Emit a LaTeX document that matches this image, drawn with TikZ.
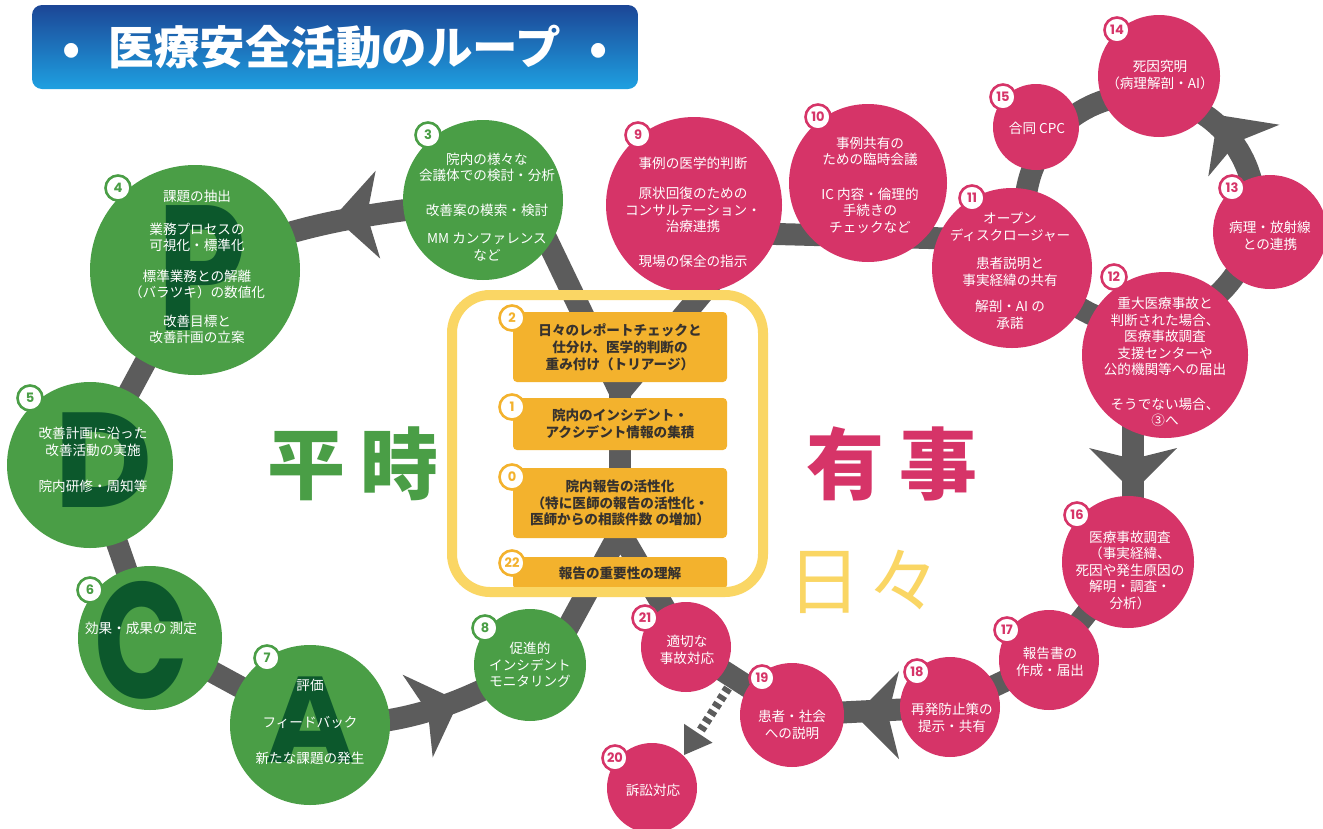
\documentclass[tikz,border=0pt]{standalone}
\usepackage{fontspec}
\newfontfamily\jp{Noto Sans CJK JP}
\newfontfamily\pop{Poppins}
\usetikzlibrary{calc}
\pgfdeclarelayer{back}
\pgfdeclarelayer{bands}
\pgfsetlayers{back,bands,main}
\definecolor{pgreen}{RGB}{74,158,70}
\definecolor{dgreen}{RGB}{12,88,44}
\definecolor{ppink}{RGB}{214,52,104}
\definecolor{bandgray}{RGB}{92,92,92}
\definecolor{boxorange}{RGB}{243,178,45}
\definecolor{frameyellow}{RGB}{250,214,100}
\definecolor{txtdark}{RGB}{55,50,45}
\definecolor{titletop}{RGB}{28,70,150}
\definecolor{titlebot}{RGB}{30,160,225}
\tikzset{
  band/.style={draw=bandgray, line width=22pt},
  dashband/.style={draw=bandgray, line width=9pt, dash pattern=on 5pt off 4pt},
  gcirc/.style={circle, fill=pgreen, minimum size=#1pt, inner sep=0pt},
  pcirc/.style={circle, fill=ppink, minimum size=#1pt, inner sep=0pt},
  badge/.style={circle, draw=#1, fill=white, line width=2.6pt, minimum size=25pt, inner sep=0pt, text=#1, font=\pop\bfseries\fontsize{13}{13}\selectfont},
  ctext/.style={text=white, align=center, inner sep=0pt, font=\jp\fontsize{13.6}{16.5}\selectfont},
  obox/.style={rounded corners=4pt, fill=boxorange, minimum width=214pt, minimum height=#1pt, inner sep=0pt, text=txtdark, align=center, font=\jp\bfseries\fontsize{13.6}{16.8}\selectfont},
  bigletter/.style={text=dgreen, inner sep=0pt, font=\pop\bfseries\fontsize{#1}{#1}\selectfont},
  bigword/.style={inner sep=0pt, font=\jp\bfseries\fontsize{78}{78}\selectfont},
  bigwordlight/.style={inner sep=0pt, font=\jp\fontsize{74}{74}\selectfont},
  titlebox/.style={rounded corners=10pt, top color=titletop, bottom color=titlebot, minimum width=606pt, minimum height=84pt, text=white, font=\jp\bfseries\fontsize{45.5}{45.5}\selectfont},
  frame/.style={draw=frameyellow, line width=10pt, rounded corners=38pt}
}
\newcommand\bighead[3]{\begin{scope}[shift={(#1,#2)},rotate=#3]\fill[bandgray] (0,0) -- (-44,44) -- (-33,0) -- (-44,-44) -- cycle;\end{scope}}
\begin{document}
\begin{tikzpicture}[x=1pt,y=-1pt]
\begin{pgfonlayer}{back}
\fill[white] (0,0) rectangle (1323,828);
\end{pgfonlayer}
\useasboundingbox (0,0) rectangle (1323,828);

% ---------- circles ----------
\node[gcirc=160] (n3) at (483,200) {};
\node[gcirc=210] (n4) at (195,270) {};
\node[gcirc=166] (n5) at (90,465) {};
\node[gcirc=144] (n6) at (150,638) {};
\node[gcirc=160] (n7) at (310,725) {};
\node[gcirc=112] (n8) at (530,665) {};
\node[pcirc=176] (n9) at (694,205) {};
\node[pcirc=158] (n10) at (868,183) {};
\node[pcirc=160] (n11) at (1012,268) {};
\node[pcirc=166] (n12) at (1165,355) {};
\node[pcirc=114] (n13) at (1270,232) {};
\node[pcirc=122] (n14) at (1159,76) {};
\node[pcirc=86] (n15) at (1036,127) {};
\node[pcirc=132] (n16) at (1128,562) {};
\node[pcirc=100] (n17) at (1049,660) {};
\node[pcirc=100] (n18) at (950,707) {};
\node[pcirc=104] (n19) at (792,715) {};
\node[pcirc=90] (n20) at (652,788) {};
\node[pcirc=90] (n21) at (686,647) {};

% ---------- helper coordinates ----------
\coordinate (j1) at (620,392);
\coordinate (j2) at (620,532);
\coordinate (a3) at (535,215);
\coordinate (a9) at (745,242);
\coordinate (a8) at (560,642);
\coordinate (a21) at (683,640);
\coordinate (p9) at (700,232);
\coordinate (p11) at (1005,240);
\coordinate (loopc) at (1140,210);
\coordinate (q12) at (1133,400);
\coordinate (q16) at (1133,560);
\coordinate (d1) at (728,688);
\coordinate (d2) at (699,733);

% ---------- gray bands ----------
\begin{pgfonlayer}{bands}
\draw[band] (a3) -- (j1) -- (a9);
\draw[band] (j1) -- (j2);
\draw[band] (a8) -- (j2) -- (a21);
\draw[band] (n3.center) .. controls (400,212) and (300,216) .. (n4.center);
\draw[band] (n4.center) -- (n5.center);
\draw[band] (n5.center) -- (n6.center);
\draw[band] (n6.center) -- (n7.center);
\draw[band] (n7.center) .. controls (400,728) and (460,705) .. (n8.center);
\draw[band] (p9) -- (p11);
\draw[band] (loopc) circle[radius=115pt];
\draw[band] (q12) -- (q16);
\draw[band] (n16.center) -- (n17.center) -- (n18.center) -- (n19.center) -- (n21.center);
\draw[dashband] (d1) -- (d2);
\bighead{334}{217}{183}
\bighead{459}{701}{20}
\bighead{1218}{115}{126}
\bighead{1133}{492}{-90}
\bighead{855}{715}{180}
\begin{scope}[shift={(684,755)},rotate=236.5]
\fill[bandgray] (0,0) -- (-26,17) -- (-26,-17) -- cycle;
\end{scope}
\end{pgfonlayer}

% ---------- big letters PDCA ----------
\begin{scope}\clip (n4.center) circle[radius=105pt];
\begin{scope}[shift={(202,268)},xscale=0.8]\node[bigletter=178, transform shape] (lp) at (0,0) {P};\end{scope}\end{scope}
\begin{scope}\clip (n5.center) circle[radius=83pt];
\node[bigletter=135] (ld) at (104,460) {D};\end{scope}
\begin{scope}\clip (n6.center) circle[radius=72pt];
\begin{scope}[shift={(142,640)},xscale=0.75]\node[bigletter=165, transform shape] (lc) at (0,0) {C};\end{scope}\end{scope}
\begin{scope}\clip (n7.center) circle[radius=80pt];
\node[bigletter=122] (la) at (310,720) {A};\end{scope}

% ---------- circle texts ----------
\node[ctext] (t3) at (487,207) {院内の様々な\\会議体での検討・分析\\[18pt]改善案の模索・検討\\[12pt]MM カンファレンス\\など};
\node[ctext] (t4) at (197,267) {課題の抽出\\[16pt]業務プロセスの\\可視化・標準化\\[14pt]標準業務との解離\\（バラツキ）の数値化\\[12pt]改善目標と\\改善計画の立案};
\node[ctext] (t5) at (93,460) {改善計画に沿った\\改善活動の実施\\[20pt]院内研修・周知等};
\node[ctext] (t6) at (141,628) {効果・成果の 測定};
\node[ctext] (t7) at (310,722) {評価\\[20pt]フィードバック\\[20pt]新たな課題の発生};
\node[ctext] (t8) at (530,665) {促進的\\インシデント\\モニタリング};
\node[ctext] (t9) at (693,212) {事例の医学的判断\\[14pt]原状回復のための\\コンサルテーション・\\治療連携\\[18pt]現場の保全の指示};
\node[ctext] (t10) at (870,185) {事例共有の\\ための臨時会議\\[18pt]IC 内容・倫理的\\手続きの\\チェックなど};
\node[ctext] (t11) at (1010,271) {オープン\\ディスクロージャー\\[12pt]患者説明と\\事実経緯の共有\\[10pt]解剖・AI の\\承諾};
\node[ctext] (t15) at (1037,128) {合同 CPC};
\node[ctext] (t14) at (1160,75) {死因究明\\（病理解剖・AI）};
\node[ctext] (t13) at (1270,236) {病理・放射線\\との連携};
\node[ctext] (t12) at (1165,362) {重大医療事故と\\判断された場合、\\医療事故調査\\支援センターや\\公的機関等への届出\\[18pt]そうでない場合、\\③へ};
\node[ctext] (t16) at (1130,570) {医療事故調査\\（事実経緯、\\死因や発生原因の\\解明・調査・\\分析）};
\node[ctext] (t17) at (1050,662) {報告書の\\作成・届出};
\node[ctext] (t18) at (952,718) {再発防止策の\\提示・共有};
\node[ctext] (t19) at (792,725) {患者・社会\\への説明};
\node[ctext] (t20) at (653,790) {訴訟対応};
\node[ctext] (t21) at (687,650) {適切な\\事故対応};

% ---------- badges ----------
\node[badge=pgreen] (b3) at (428,135) {3};
\node[badge=pgreen] (b4) at (118,188) {4};
\node[badge=pgreen] (b5) at (30,398) {5};
\node[badge=pgreen] (b6) at (90,590) {6};
\node[badge=pgreen] (b7) at (267,658) {7};
\node[badge=pgreen] (b8) at (485,628) {8};
\node[badge=ppink] (b9) at (638,135) {9};
\node[badge=ppink] (b10) at (818,117) {10};
\node[badge=ppink] (b11) at (972,198) {11};
\node[badge=ppink] (b12) at (1114,277) {12};
\node[badge=ppink] (b13) at (1232,188) {13};
\node[badge=ppink] (b14) at (1117,30) {14};
\node[badge=ppink] (b15) at (1003,97) {15};
\node[badge=ppink] (b16) at (1077,515) {16};
\node[badge=ppink] (b17) at (1007,630) {17};
\node[badge=ppink] (b18) at (917,672) {18};
\node[badge=ppink] (b19) at (762,678) {19};
\node[badge=ppink] (b20) at (615,758) {20};
\node[badge=ppink] (b21) at (645,618) {21};

% ---------- centre box ----------
\node[obox=70] (bx2) at (620,347) {日々のレポートチェックと\\仕分け、医学的判断の\\重み付け（トリアージ）};
\node[obox=52] (bx1) at (620,424) {院内のインシデント・\\アクシデント情報の集積};
\node[obox=70] (bx0) at (620,503) {院内報告の活性化\\（特に医師の報告の活性化・\\医師からの相談件数 の増加）};
\node[obox=32] (bx22) at (620,573) {報告の重要性の理解};
\draw[frame] (452,295) rectangle (763,592);
\node[badge=boxorange] (c2) at (512,318) {2};
\node[badge=boxorange] (c1) at (512,407) {1};
\node[badge=boxorange] (c0) at (512,477) {0};
\node[badge=boxorange] (c22) at (512,563) {22};

% ---------- big words ----------
\node[bigword, text=pgreen] (wh) at (353,464) {平\hspace{16pt}時};
\node[bigword, text=ppink] (wy) at (892,464) {有\hspace{16pt}事};
\node[bigwordlight, text=frameyellow] (wn) at (864,582) {日\hspace{6pt}々};

% ---------- title ----------
\node[titlebox] (title) at (335,47) {•\hspace{28pt}医療安全活動のループ\hspace{28pt}•};
\end{tikzpicture}
\end{document}
